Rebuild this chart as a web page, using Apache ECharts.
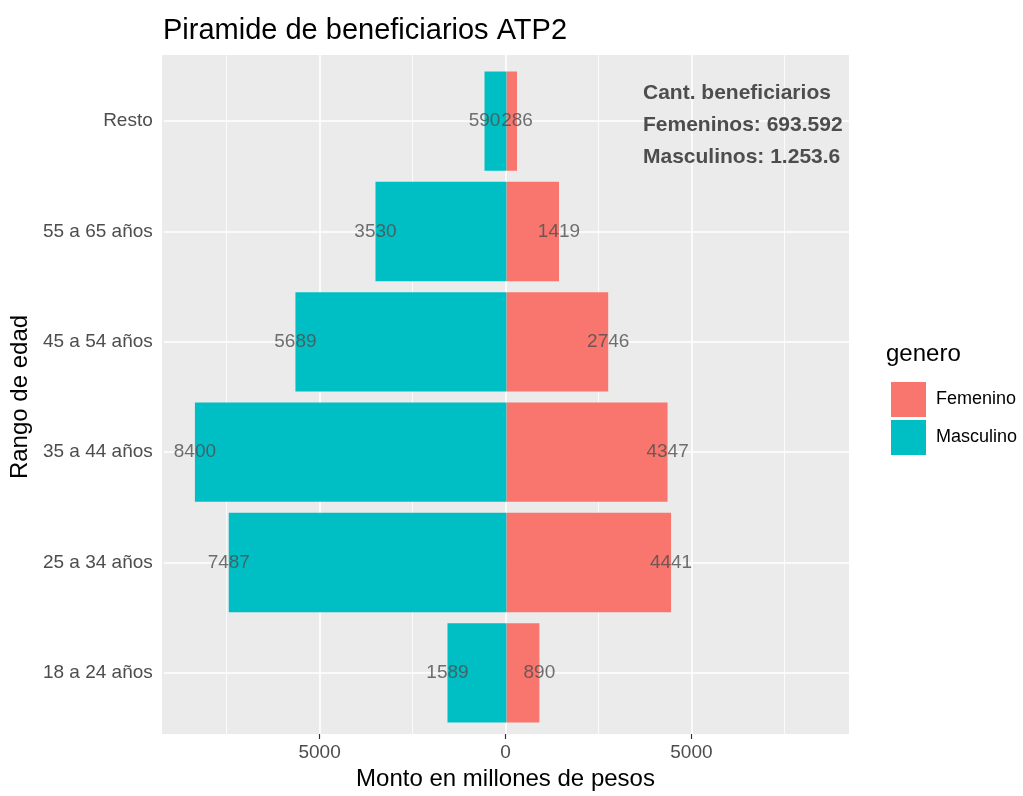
<!DOCTYPE html>
<html>
<head>
<meta charset="utf-8">
<script src="https://cdn.jsdelivr.net/npm/echarts@6/dist/echarts.min.js"></script>
<style>
  html, body { margin: 0; padding: 0; background: #fff; }
  #chart { width: 1023px; height: 796px; }
</style>
</head>
<body>
<div id="chart"></div>
<script>
// rangos de edad, de abajo hacia arriba
const categorias = ["18 a 24 años", "25 a 34 años", "35 a 44 años", "45 a 54 años", "55 a 65 años", "Resto"];
// monto en millones de pesos
const femenino = [890, 4441, 4347, 2746, 1419, 286];
const masculino = [1589, 7487, 8400, 5689, 3530, 590];
// lineas de la grilla vertical
const gridMayor = [-5000, 0, 5000];
const gridMenor = [-7500, -2500, 2500, 7500];
const ticksX = [-5000, 0, 5000];

const fuente = "'Liberation Sans', Arial, Helvetica, sans-serif";
const limite = 9240;

const chart = echarts.init(document.getElementById("chart"));

let masculinoNeg = masculino.map(v => -v);

// etiquetas: en el extremo de cada barra
let etiquetas = [];
categorias.forEach((c, i) => {
  etiquetas.push([-masculino[i], c]);
  etiquetas.push([femenino[i], c]);
});

let lineasV = [];
gridMenor.forEach(v => lineasV.push({ xAxis: v, lineStyle: { width: 0.8 } }));
gridMayor.forEach(v => lineasV.push({ xAxis: v, lineStyle: { width: 1.6 } }));

let lineasH = categorias.map(c => ({ yAxis: c, lineStyle: { width: 1.6 } }));

const option = {
  animation: false,
  textStyle: { fontFamily: fuente },
  title: {
    text: "Piramide de beneficiarios ATP2",
    left: 158,
    top: 11,
    textStyle: { fontSize: 29, fontWeight: "normal", color: "#000", fontFamily: fuente },
  },
  legend: {
    data: ["Femenino", "Masculino"],
    orient: "vertical",
    left: 886,
    top: 377,
    itemWidth: 35,
    itemHeight: 35,
    itemGap: 3,
    icon: "rect",
    textStyle: { fontSize: 18, color: "#000", padding: [0, 0, 0, 5], fontFamily: fuente },
  },
  graphic: [
    {
      type: "text",
      left: 886,
      top: 342,
      style: { text: "genero", fontSize: 24, fill: "#000", fontFamily: fuente },
    },
    {
      type: "text",
      left: 643,
      top: 77,
      z: 10,
      style: {
        text: "Cant. beneficiarios\nFemeninos: 693.592\nMasculinos: 1.253.6",
        fontSize: 21,
        fontWeight: "bold",
        lineHeight: 32,
        fill: "#4d4d4d",
        fontFamily: fuente,
      },
    },
  ],
  grid: [
    { left: 162, top: 55, width: 687, height: 684, show: true, backgroundColor: "#EBEBEB", borderWidth: 0 },
    { left: 162, top: 66, width: 687, height: 662, show: false },
  ],
  xAxis: [
    {
      gridIndex: 0,
      type: "value",
      min: -limite,
      max: limite,
      name: "Monto en millones de pesos",
      nameLocation: "middle",
      nameGap: 33,
      nameTextStyle: { fontSize: 24, color: "#000", fontFamily: fuente },
      axisLine: { show: false },
      splitLine: { show: false },
      axisTick: { show: true, customValues: ticksX, length: 5, lineStyle: { color: "#333", width: 1.2 } },
      axisLabel: {
        customValues: ticksX,
        margin: 9,
        fontSize: 19,
        color: "#4d4d4d",
        fontFamily: fuente,
        formatter: v => String(Math.abs(v)),
      },
    },
    {
      gridIndex: 1,
      type: "value",
      min: -limite,
      max: limite,
      show: false,
    },
  ],
  yAxis: [
    { gridIndex: 0, type: "value", min: 0, max: 1, show: false },
    {
      gridIndex: 1,
      type: "category",
      data: categorias,
      boundaryGap: true,
      name: "Rango de edad",
      nameLocation: "middle",
      nameGap: 129,
      nameRotate: 90,
      nameTextStyle: { fontSize: 24, color: "#000", fontFamily: fuente },
      axisLine: { show: false },
      splitLine: { show: false },
      axisTick: { show: true, alignWithLabel: true, length: 5, lineStyle: { color: "#333", width: 1.2 } },
      axisLabel: { fontSize: 19, color: "#4d4d4d", margin: 11, fontFamily: fuente },
    },
  ],
  series: [
    {
      name: "gridV",
      type: "line",
      xAxisIndex: 0,
      yAxisIndex: 0,
      data: [],
      z: 1,
      markLine: {
        z: 1,
        silent: true,
        symbol: ["none", "none"],
        label: { show: false },
        lineStyle: { color: "#fff", type: "solid" },
        data: lineasV,
      },
    },
    {
      name: "gridH",
      type: "line",
      xAxisIndex: 1,
      yAxisIndex: 1,
      data: [],
      z: 1,
      markLine: {
        z: 1,
        silent: true,
        symbol: ["none", "none"],
        label: { show: false },
        lineStyle: { color: "#fff", type: "solid" },
        data: lineasH,
      },
    },
    {
      name: "Femenino",
      type: "bar",
      xAxisIndex: 1,
      yAxisIndex: 1,
      data: femenino,
      barCategoryGap: "10%",
      barGap: "-100%",
      itemStyle: { color: "#F8766D" },
      z: 2,
    },
    {
      name: "Masculino",
      type: "bar",
      xAxisIndex: 1,
      yAxisIndex: 1,
      data: masculinoNeg,
      barCategoryGap: "10%",
      barGap: "-100%",
      itemStyle: { color: "#00BFC4" },
      z: 2,
    },
    {
      name: "etiquetas",
      type: "scatter",
      xAxisIndex: 1,
      yAxisIndex: 1,
      data: etiquetas,
      symbolSize: 0.01,
      silent: true,
      z: 3,
      label: {
        show: true,
        position: "inside",
        fontSize: 19,
        color: "#4d4d4d",
        fontFamily: fuente,
        formatter: p => String(Math.abs(p.value[0])),
      },
    },
  ],
};

chart.setOption(option);
</script>
</body>
</html>
